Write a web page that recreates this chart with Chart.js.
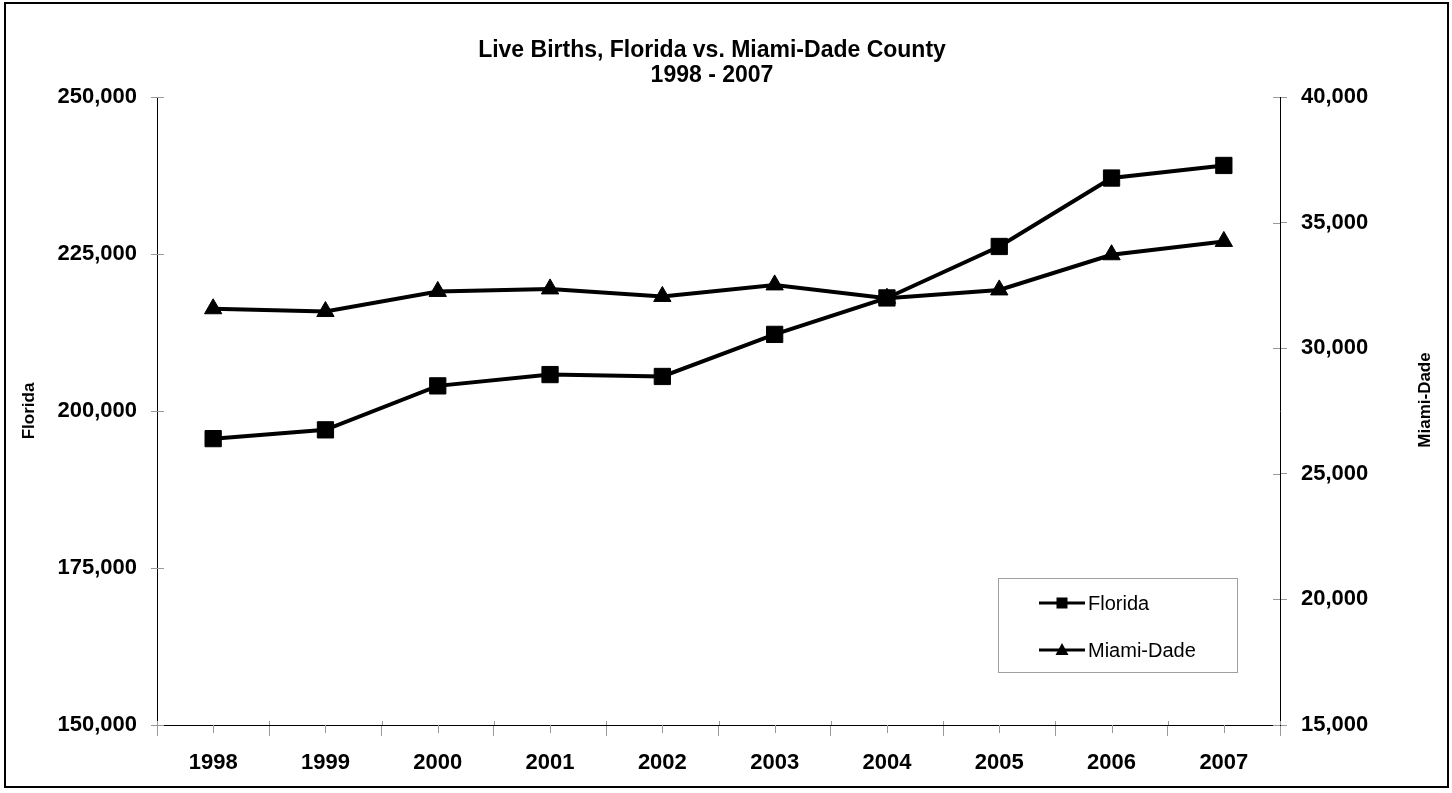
<!DOCTYPE html>
<html>
<head>
<meta charset="utf-8">
<script src="https://cdn.jsdelivr.net/npm/chart.js@4/dist/chart.umd.min.js"></script>
<style>
  body { margin: 0; background: #fff; }
  canvas { display: block; }
</style>
</head>
<body>
<canvas id="chart" width="1452" height="793"></canvas>
<script>
const years = ['1998', '1999', '2000', '2001', '2002', '2003', '2004', '2005', '2006', '2007']
const florida = [195600, 197000, 204000, 205800, 205500, 212200, 218000, 226200, 237100, 239100]
const miamiDade = [31570, 31460, 32260, 32360, 32060, 32520, 31990, 32320, 33720, 34250]
const floridaTicks = [150000, 175000, 200000, 225000, 250000]
const miamiTicks = [15000, 20000, 25000, 30000, 35000, 40000]

const FONT = "'Liberation Sans', Arial, sans-serif"
const fmt = v => Number(v).toLocaleString('en-US')

// white page + black frame round the whole chart
const framePlugin = {
    id: 'frame',
    beforeDraw(chart){
        const ctx = chart.ctx
        ctx.save()
        ctx.fillStyle = '#fff'
        ctx.fillRect(0, 0, chart.width, chart.height)
        ctx.strokeStyle = '#000'
        ctx.lineWidth = 2
        ctx.strokeRect(5, 3, 1443, 784)
        ctx.restore()
    }
}

// excel style cross ticks, minor ticks, right axis title and the boxed legend
const extrasPlugin = {
    id: 'extras',
    afterDraw(chart){
        const ctx = chart.ctx
        const x = chart.scales.x
        const yL = chart.scales.y
        const yR = chart.scales.y1
        const area = chart.chartArea
        ctx.save()
        ctx.strokeStyle = '#999'
        ctx.lineWidth = 1
        ctx.beginPath()
        yL.ticks.forEach(t => {
            const py = Math.round(yL.getPixelForValue(t.value)) + 0.5
            ctx.moveTo(area.left, py); ctx.lineTo(area.left + 7, py)
        })
        yR.ticks.forEach(t => {
            const py = Math.round(yR.getPixelForValue(t.value)) + 0.5
            ctx.moveTo(area.right - 7, py); ctx.lineTo(area.right, py)
        })
        for (let i = 0; i <= years.length; i++){
            const px = Math.round(x.getPixelForValue(i - 0.5)) + 0.5
            ctx.moveTo(px, area.bottom - 4); ctx.lineTo(px, area.bottom)
        }
        for (let i = 0; i < years.length; i++){
            const px = Math.round(x.getPixelForValue(i)) + 0.5
            ctx.moveTo(px, area.bottom); ctx.lineTo(px, area.bottom + 8)
        }
        ctx.stroke()

        // right axis title, reading bottom to top
        ctx.fillStyle = '#000'
        ctx.font = 'bold 17px ' + FONT
        ctx.textAlign = 'center'
        ctx.textBaseline = 'middle'
        ctx.translate(1425, 400)
        ctx.rotate(-Math.PI / 2)
        ctx.fillText('Miami-Dade', 0, 0)
        ctx.restore()

        // legend
        ctx.save()
        const bx = 998, by = 578, bw = 239, bh = 94
        ctx.fillStyle = '#fff'
        ctx.fillRect(bx, by, bw, bh)
        ctx.strokeStyle = '#a0a0a0'
        ctx.lineWidth = 1
        ctx.strokeRect(bx + 0.5, by + 0.5, bw, bh)
        const rows = [603, 650]
        chart.data.datasets.forEach((ds, i) => {
            const cy = rows[i]
            ctx.strokeStyle = '#000'
            ctx.lineWidth = 3
            ctx.beginPath()
            ctx.moveTo(1039, cy); ctx.lineTo(1085, cy)
            ctx.stroke()
            ctx.fillStyle = '#000'
            ctx.beginPath()
            if (ds.pointStyle === 'rect'){
                ctx.rect(1062 - 5.5, cy - 5.5, 11, 11)
            } else {
                ctx.moveTo(1062, cy - 7)
                ctx.lineTo(1068.5, cy + 5)
                ctx.lineTo(1055.5, cy + 5)
                ctx.closePath()
            }
            ctx.fill()
            ctx.font = '20px ' + FONT
            ctx.textAlign = 'left'
            ctx.textBaseline = 'middle'
            ctx.fillText(ds.label, 1088, cy + 1)
        })
        ctx.restore()
    }
}

const ctx = document.getElementById('chart').getContext('2d')
const myChart = new Chart(ctx, {
    type: 'line',
    data: {
        labels: years,
        datasets: [{
            label: 'Florida',
            data: florida,
            yAxisID: 'y',
            borderColor: '#000',
            backgroundColor: '#000',
            borderWidth: 4,
            pointStyle: 'rect',
            pointRadius: 11.5,
            pointBorderWidth: 1,
            pointBackgroundColor: '#000',
            pointBorderColor: '#000',
            tension: 0
        }, {
            label: 'Miami-Dade',
            data: miamiDade,
            yAxisID: 'y1',
            borderColor: '#000',
            backgroundColor: '#000',
            borderWidth: 4,
            pointStyle: 'triangle',
            pointRadius: 10,
            pointBorderWidth: 1,
            pointBackgroundColor: '#000',
            pointBorderColor: '#000',
            tension: 0
        }]
    },
    options: {
        responsive: false,
        animation: false,
        devicePixelRatio: 1,
        layout: { padding: { top: 10, left: 0, right: 28, bottom: 0 } },
        plugins: {
            legend: { display: false },
            tooltip: { enabled: false },
            title: {
                display: true,
                text: ['Live Births, Florida vs. Miami-Dade County', '1998 - 2007'],
                color: '#000',
                font: { family: FONT, size: 23, weight: 'bold', lineHeight: 1.1 },
                padding: { top: 28, bottom: 8.4 }
            }
        },
        scales: {
            x: {
                type: 'category',
                offset: true,
                grid: { offset: true, drawOnChartArea: false, drawTicks: true, tickLength: 11, tickColor: '#999', color: '#999' },
                border: { display: true, color: '#000', width: 1 },
                ticks: { color: '#000', font: { family: FONT, size: 22, weight: 'bold' }, padding: 14, maxRotation: 0, autoSkip: false },
                afterFit(scale){ scale.height = 68 }
            },
            y: {
                position: 'left',
                min: 150000,
                max: 250000,
                afterBuildTicks(scale){ scale.ticks = floridaTicks.map(v => ({value: v})) },
                grid: { drawOnChartArea: false, drawTicks: true, tickLength: 6, tickColor: '#999', color: '#999' },
                border: { display: true, color: '#000', width: 1 },
                ticks: { color: '#000', font: { family: FONT, size: 22, weight: 'bold' }, padding: 14, callback: v => fmt(v) },
                title: { display: true, text: 'Florida', color: '#000', font: { family: FONT, size: 17, weight: 'bold', lineHeight: 1 }, padding: { top: 21, bottom: 0 } },
                afterFit(scale){ scale.width = 157 }
            },
            y1: {
                position: 'right',
                min: 15000,
                max: 40000,
                afterBuildTicks(scale){ scale.ticks = miamiTicks.map(v => ({value: v})) },
                grid: { drawOnChartArea: false, drawTicks: true, tickLength: 7, tickColor: '#999', color: '#999' },
                border: { display: true, color: '#000', width: 1 },
                ticks: { color: '#000', font: { family: FONT, size: 22, weight: 'bold' }, padding: 14, callback: v => fmt(v) },
                afterFit(scale){ scale.width = 144 }
            }
        }
    },
    plugins: [framePlugin, extrasPlugin]
})
</script>
</body>
</html>
